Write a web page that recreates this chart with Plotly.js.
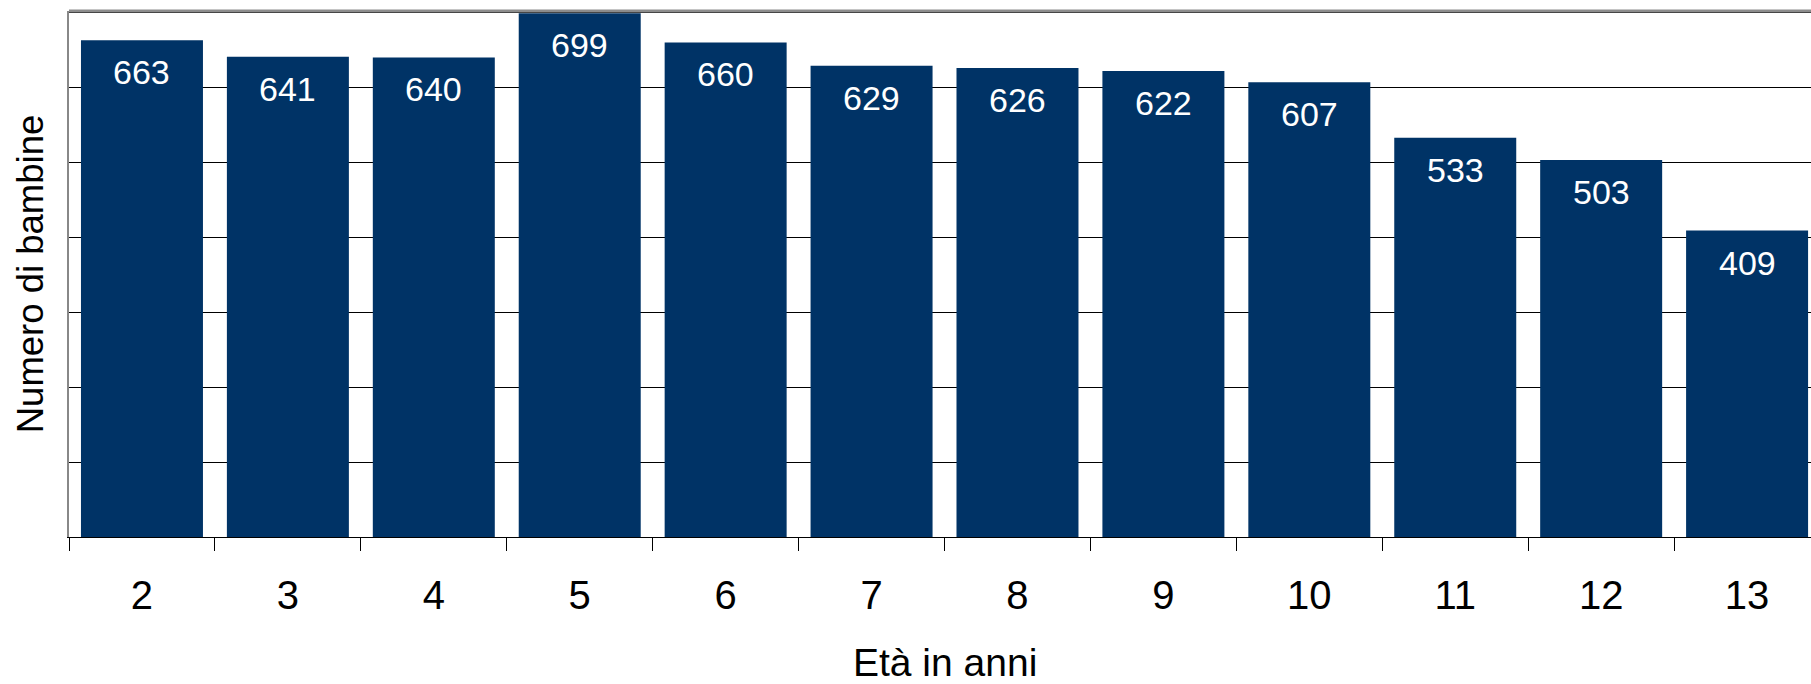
<!DOCTYPE html>
<html>
<head>
<meta charset="utf-8">
<script src="https://cdn.plot.ly/plotly-3.0.1.min.js"></script>
<style>html,body{margin:0;padding:0;background:#fff;}#chart{width:1811px;height:684px;}</style>
</head>
<body>
<div id="chart"></div>
<script>
const categories = ["2","3","4","5","6","7","8","9","10","11","12","13"];
const values = [663, 641, 640, 699, 660, 629, 626, 622, 607, 533, 503, 409];
const xTitle = "Età in anni";
const yTitle = "Numero di bambine";

const FONT = "Arial, 'Liberation Sans', sans-serif";

const trace = {
  type: "bar",
  x: categories,
  y: values,
  marker: {color: "#003366", line: {width: 0}},
  hoverinfo: "x+y",
  cliponaxis: false
};

const annotations = categories.map((c, i) => ({
  x: i, y: values[i], xref: "x", yref: "y",
  text: String(values[i]), showarrow: false,
  yanchor: "middle", yshift: -32,
  font: {family: FONT, size: 34, color: "#ffffff"}
}));

// x-axis title, centred under the full category span
annotations.push({
  x: (categories.length - 1) / 2, xref: "x",
  y: 0, yref: "paper",
  text: xTitle, showarrow: false,
  xanchor: "center", yanchor: "middle", yshift: -125,
  font: {family: FONT, size: 39, color: "#000"}
});

const layout = {
  width: 1811, height: 684,
  margin: {l: 69, r: 0, t: 11, b: 147, pad: 0},
  paper_bgcolor: "#ffffff", plot_bgcolor: "#ffffff",
  showlegend: false,
  bargap: 0.164,
  font: {family: FONT, color: "#000"},
  xaxis: {
    type: "category",
    range: [-0.5, 11.438],
    tickson: "boundaries",
    ticks: "outside", ticklen: 13, tickcolor: "#000", tickwidth: 1,
    showline: true, linecolor: "#000", linewidth: 1,
    showgrid: false, zeroline: false,
    tickfont: {family: FONT, size: 40, color: "#000"},
    ticklabelstandoff: 23,
    automargin: false
  },
  yaxis: {
    range: [0, 702],
    dtick: 100, tick0: 0,
    showticklabels: false, ticks: "",
    showgrid: true, gridcolor: "#000", gridwidth: 1,
    zeroline: false,
    showline: true, linecolor: "#888", linewidth: 2.5,
    title: {text: yTitle, font: {family: FONT, size: 36.5, color: "#000"}, standoff: 12},
    automargin: true
  },
  shapes: [{
    type: "line", xref: "paper", yref: "paper",
    x0: 0, x1: 1, y0: 1, y1: 1,
    line: {color: "#8c8c8c", width: 3}
  }],
  annotations: annotations
};

Plotly.newPlot("chart", [trace], layout, {displayModeBar: false, staticPlot: true});
</script>
</body>
</html>
